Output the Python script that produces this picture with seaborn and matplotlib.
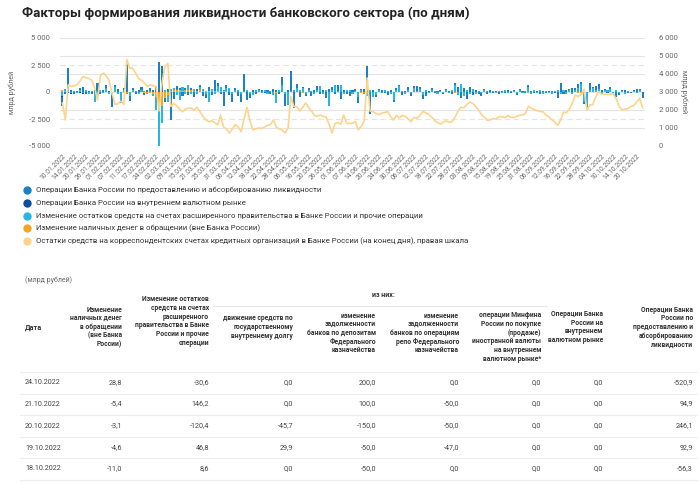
import numpy as np
import pandas as pd
import matplotlib
matplotlib.use("Agg")
import matplotlib.pyplot as plt
from matplotlib.lines import Line2D
import seaborn as sns

sns.set_theme(style="white")
plt.rcParams['font.family'] = ['Roboto', 'DejaVu Sans']

# ---------------- data ----------------
holidays = ['2022-02-23', '2022-03-07', '2022-03-08', '2022-05-02', '2022-05-03',
            '2022-05-09', '2022-05-10', '2022-06-13']
days = pd.bdate_range('2022-01-10', '2022-10-24', freq='C', holidays=holidays)
days = days.union(pd.DatetimeIndex(['2022-03-05']))
day_labels = [d.strftime('%d.%m.%Y') for d in days]

liq_ops = [
    -900, -200, 1900, 150, -150, 100, 200, 450, -100, 100,
    -200, 150, 850, -150, 200, 300, 100, -1100, 200, 250,
    -300, 150, 2550, -450, 200, -150, 150, 300, -200, 150,
    250, 150, 600, 2800, 2400, -300, 300, -2600, -650, 350,
    200, -400, 200, -300, 250, -450, 150, 200, -350, -400,
    300, -300, 1000, 300, -200, -1300, 250, -300, -700, 200,
    -400, -800, 1600, -700, -400, 150, -150, 100, 150, -100,
    200, -150, 300, 200, -200, 800, -1050, 150, 1850, -1500,
    300, -400, 150, -200, 100, -350, 150, 400, -200, 150,
    -500, 250, 300, -200, 500, -600, 200, -150, -350, 150,
    200, -550, 100, 250, 2450, -2000, 150, -200, 100, 200,
    -100, -300, 150, -150, 200, 150, -280, 100, 350, -250,
    100, 450, 200, -300, -350, 100, 150, -100, 100, 50,
    -100, 150, 100, -150, 200, 450, -550, 400, -600, 500,
    -300, 150, -200, -250, 100, -150, 150, -100, 80, -120,
    100, -80, 150, -100, 80, -150, 100, 50, -100, 150,
    100, -80, 100, -150, 80, -100, 50, 100, -80, -500,
    800, -150, 200, 100, 350, 150, 300, 250, -200, -400,
    600, 150, 450, 400, 150, 100, -100, 150, -80, -430,
    -150, 100, 150, -100, -56.3, 92.9, 246.1, 94.9, -520.9]

fx_ops = [
    -40, -30, -50, -40, -30, -40, -50, -30, -40, -20] + [0] * 189

gov_ops = [
    -400, 150, 200, -100, 100, -80, 150, -100, 120, -150,
    100, -900, -200, 150, -100, 350, -150, -200, 400, -150,
    -700, 200, -150, -300, 150, 100, -120, 200, 100, -150,
    120, -200, -1200, -4200, -1600, 200, -600, 150, 200, -250,
    -700, 330, -150, 500, -200, 150, -150, 300, 200, -200,
    -900, 200, -150, 500, 400, 150, 350, 330, -200, 150,
    200, -150, 100, 150, -200, -300, 150, 200, -100, 150,
    -150, 100, -200, -1000, 150, 600, -200, -1200, 100, 150,
    400, 150, 350, -150, 200, 100, -200, 150, 500, -150,
    200, -1250, 150, 600, 100, 650, -150, 200, 150, -200,
    100, -430, 150, -100, -300, 200, -430, -300, 150, -100,
    200, 100, -150, -700, 150, 500, 100, -200, 150, -100,
    400, 100, 250, -300, 150, -100, 200, 100, -150, 100,
    -80, 150, -100, 200, 650, -300, 700, -400, 150, -200,
    250, -150, 100, -100, 150, 80, -100, 120, -80, 100,
    -120, 150, -100, 80, 120, -100, 150, -80, 100, 500,
    -150, 120, -100, 150, -120, 100, -80, -150, 120, 150,
    -200, 200, -150, 150, -100, 200, 400, 700, -900, -1250,
    200, 350, 150, 300, -150, 200, 150, 250, -100, 150,
    -120, 100, -150, 120, 8.6, 46.8, -120.4, 146.2, -30.6]

cash = [
    200, 120, 80, 40, 30, 20, 10, -20, 30, 20,
    10, -30, -40, 20, 30, 10, -20, -60, 20, 30,
    -30, -60, -80, -40, 20, 10, -20, -40, -60, -80,
    -120, -200, -500, -1700, -1300, -600, -300, 100, 150, 200,
    150, 120, 200, 180, 150, 100, 120, 150, 100, 80,
    120, 100, 80, 60, 50, 80, 60, 40, 30, 20,
    30, 10, -20, -30, 20, 10, -40, -30, 20, 10,
    -20, -30, -40, -60, 20, 10, -30, -20, 10, 20,
    -10, -40, -60, 20, 30, 10, -20, -30, 20, 10,
    -20, -40, -30, 10, 20, -10, -30, -20, 10, 20,
    -10, -30, -50, -60, -80, 20, 30, 10, -10, -20,
    10, 20, -10, -30, -20, 10, 20, -10, -30, -20,
    10, 25, -10, -20, -40, 10, 20, -15, -30, -20,
    10, 20, -20, -40, -50, 10, 20, -10, -30, -25,
    15, 20, -10, -20, -40, 10, 25, -10, -30, -20,
    10, 20, -10, -25, -30, 10, 20, -10, -30, -50,
    10, 20, -15, -20, -30, 10, 20, -10, -30, -20,
    10, 20, -20, -30, -40, -30, -60, -80, -50, -30,
    -20, -40, -30, 10, -20, -10, -30, 20, 10, -20,
    -10, -30, 15, -20, -11.0, -4.6, -3.1, -5.4, 28.8]

balances = [
    2400, 1450, 3400, 3300, 3350, 3400, 3600, 3850, 3800, 3750,
    3650, 3250, 2550, 3900, 4050, 3900, 3600, 2900, 2300, 2350,
    2500, 2300, 4800, 4330, 4330, 4050, 3750, 3650, 3500, 3300,
    3400, 3350, 3300, 1950, 3500, 4400, 4590, 2200, 2350, 2250,
    2050, 1900, 2050, 2100, 2100, 2000, 2150, 1900, 1630, 1450,
    1350, 1400, 1300, 1170, 1720, 1050, 950, 720, 950, 1200,
    1050, 800, 1500, 2150, 1400, 900, 950, 1000, 980, 1050,
    1150, 1200, 1440, 1050, 950, 890, 720, 1000, 2740, 2190,
    2190, 1950, 2150, 2390, 2150, 1950, 1700, 1650, 1720, 1630,
    1630, 1200, 720, 1250, 1300, 1200, 1720, 1260, 1250, 1270,
    1350, 900, 1100, 1400, 3780, 1940, 1910, 1800, 1760, 1820,
    1860, 1910, 1630, 1440, 1700, 1560, 1700, 1650, 1500, 1350,
    1600, 1540, 1700, 1920, 1850, 1750, 1600, 1430, 1300, 1220,
    1330, 1390, 1310, 1350, 1600, 1950, 2150, 2120, 2300, 2450,
    2370, 2190, 2000, 1750, 1600, 1420, 1450, 1530, 1500, 1630,
    1630, 1580, 1700, 1600, 1580, 1650, 1700, 1720, 1800, 2200,
    2100, 2020, 1960, 1920, 1900, 1720, 1620, 1460, 1330, 1150,
    1440, 1880, 1850, 2050, 2370, 2830, 2750, 2850, 3150, 2000,
    2280, 2300, 2740, 3020, 2880, 2870, 2870, 2880, 2900, 2600,
    2190, 2000, 2050, 2080, 2200, 2250, 2450, 2650, 2110]

series_names = [
    "Операции Банка России по предоставлению и абсорбированию ликвидности",
    "Операции Банка России на внутреннем валютном рынке",
    "Изменение остатков средств на счетах расширенного правительства в Банке России и прочие операции",
    "Изменение наличных денег в обращении (вне Банка России)",
    "Остатки средств на корреспондентских счетах кредитных организаций в Банке России (на конец дня), правая шкала",
]
series_colors = ["#1b80c6", "#0b4d98", "#27b6e8", "#f6a623", "#fdd48c"]

left_ticks = [-5000, -2500, 0, 2500, 5000]
right_ticks = [0, 1000, 2000, 3000, 4000, 5000, 6000]

# table
tbl_dates = ['24.10.2022', '21.10.2022', '20.10.2022', '19.10.2022', '18.10.2022']
tbl_cash = [28.8, -5.4, -3.1, -4.6, -11.0]
tbl_gov = [-30.6, 146.2, -120.4, 46.8, 8.6]
tbl_debt = [0.0, 0.0, -45.7, 29.9, 0.0]
tbl_dep = [200.0, 100.0, -150.0, -50.0, -50.0]
tbl_repo = [0.0, -50.0, -50.0, -47.0, 0.0]
tbl_minfin = [0.0, 0.0, 0.0, 0.0, 0.0]
tbl_fx = [0.0, 0.0, 0.0, 0.0, 0.0]
tbl_liq = [-520.9, 94.9, 246.1, 92.9, -56.3]
tbl_headers = [
    "Изменение\nналичных денег\nв обращении\n(вне Банка\nРоссии)",
    "Изменение остатков\nсредств на счетах\nрасширенного\nправительства в Банке\nРоссии и прочие\nоперации",
    "движение средств по\nгосударственному\nвнутреннему долгу",
    "изменение\nзадолженности\nбанков по депозитам\nФедерального\nказначейства",
    "изменение\nзадолженности\nбанков по операциям\nрепо Федерального\nказначейства",
    "операции Минфина\nРоссии по покупке\n(продаже)\nиностранной валюты\nна внутреннем\nвалютном рынке*",
    "Операции Банка\nРоссии на\nвнутреннем\nвалютном рынке",
    "Операции Банка\nРоссии по\nпредоставлению и\nабсорбированию\nликвидности",
]

# ---------------- figure ----------------
W, H = 700, 483
def fx(x):
    return x / W
def fy(y):
    return 1 - y / H

fig = plt.figure(figsize=(7, 4.83), dpi=100)
fig.patch.set_facecolor('white')

fig.text(fx(22), fy(13), "Факторы формирования ликвидности банковского сектора (по дням)",
         fontsize=9.6, fontweight='bold', color='#222222', va='center', ha='left')

ax = fig.add_axes([fx(60), fy(146), (645 - 60) / W, (146 - 38) / H])
ax2 = ax.twinx()

n = len(days)
xs = np.arange(n)

# grid lines
for t in right_ticks:
    ax.axhline((t - 3000) / 3000 * 5000, color='#e4e4e4', lw=0.8, zorder=0)
for t in left_ticks:
    if t not in (-5000, 0, 5000):
        ax.axhline(t, color='#e4e4e4', lw=0.8, ls=(0, (5, 3)), zorder=0)

# stacked bars (first series farthest from zero)
stack_vals = [liq_ops, fx_ops, gov_ops, cash]
pos_base = np.zeros(n)
neg_base = np.zeros(n)
for vals, col in reversed(list(zip(stack_vals, series_colors[:4]))):
    v = np.asarray(vals, dtype=float)
    bottom = np.where(v >= 0, pos_base, neg_base)
    ax.bar(xs, v, bottom=bottom, width=0.7, color=col, linewidth=0, zorder=2)
    pos_base += np.where(v > 0, v, 0)
    neg_base += np.where(v < 0, v, 0)

sns.lineplot(x=xs, y=balances, ax=ax2, color=series_colors[4], linewidth=1.2, legend=False)
ax2.set_ylabel("")
ax2.set_xlabel("")
ax2.grid(False)

ax.set_xlim(-0.8, n - 0.2)
ax.set_ylim(-5000, 5000)
ax2.set_ylim(0, 6000)

def fmt(v):
    s = f"{abs(int(v)):,}".replace(",", " ")
    return ("-" if v < 0 else "") + s

ax.set_yticks(left_ticks)
ax.set_yticklabels([fmt(t) for t in left_ticks])
ax2.set_yticks(right_ticks)
ax2.set_yticklabels([fmt(t) for t in right_ticks])
ax.tick_params(axis='y', length=0, pad=7, labelsize=5.5, labelcolor='#666666')
ax2.tick_params(axis='y', length=0, pad=10, labelsize=5.5, labelcolor='#666666')

tick_pos = xs[::4]
ax.set_xticks(tick_pos)
ax.set_xticklabels([day_labels[i] for i in tick_pos], rotation=45, ha='right',
                   rotation_mode='anchor', fontsize=4.8, color='#666666')
ax.tick_params(axis='x', length=0, pad=5, labelbottom=True)
ax2.tick_params(axis='x', labelbottom=False, bottom=False)
ax.grid(False)
for a in (ax, ax2):
    for s in a.spines.values():
        s.set_visible(False)

fig.text(fx(12), fy(92), "млрд рублей", rotation=90, fontsize=5.2, color='#666666',
         ha='center', va='center')
fig.text(fx(684), fy(92), "млрд рублей", rotation=270, fontsize=5.2, color='#666666',
         ha='center', va='center')

# legend
for k, (name, col) in enumerate(zip(series_names, series_colors)):
    y = 190 + k * 12.8
    fig.add_artist(Line2D([fx(27)], [fy(y)], marker='o', markersize=5, color=col,
                          linestyle='none', transform=fig.transFigure))
    fig.text(fx(36), fy(y), name, fontsize=5.6, color='#333333', va='center', ha='left')

# table
fig.text(fx(25), fy(280), "(млрд рублей)", fontsize=5.0, color='#666666', va='center')
fig.text(fx(383), fy(295), "из них:", fontsize=5.0, fontweight='bold', color='#333333',
         ha='center', va='center')
fig.add_artist(Line2D([fx(213), fx(547)], [fy(306), fy(306)], color='#e8e8e8', lw=0.8,
                      transform=fig.transFigure))
fig.text(fx(25), fy(328), "Дата", fontsize=5.3, fontweight='bold', color='#333333',
         va='center', ha='left')
col_right = [122, 209, 293, 376, 459, 541, 603, 693]
hdr_center = [327, 321, 327, 333, 333, 337, 327, 327]
for txt, xr, yc in zip(tbl_headers, col_right, hdr_center):
    fig.text(fx(xr), fy(yc), txt, fontsize=4.9, fontweight='bold', color='#333333',
             ha='right', va='center', linespacing=1.12, multialignment='right')

for yl in [372, 394, 415, 437, 458, 480]:
    fig.add_artist(Line2D([fx(20), fx(697)], [fy(yl), fy(yl)], color='#ececec', lw=0.8,
                          transform=fig.transFigure))

def num(v):
    return f"{v:.1f}".replace(".", ",")

cols = [tbl_cash, tbl_gov, tbl_debt, tbl_dep, tbl_repo, tbl_minfin, tbl_fx, tbl_liq]
row_y = [383, 404, 426, 448, 469]
for r, yrow in enumerate(row_y):
    fig.text(fx(25), fy(yrow), tbl_dates[r], fontsize=5.2, color='#444444',
             va='center', ha='left')
    for c, xr in enumerate(col_right):
        fig.text(fx(xr), fy(yrow), num(cols[c][r]), fontsize=5.2, color='#444444',
                 va='center', ha='right')

fig.savefig("out.png", dpi=100, facecolor='white')
